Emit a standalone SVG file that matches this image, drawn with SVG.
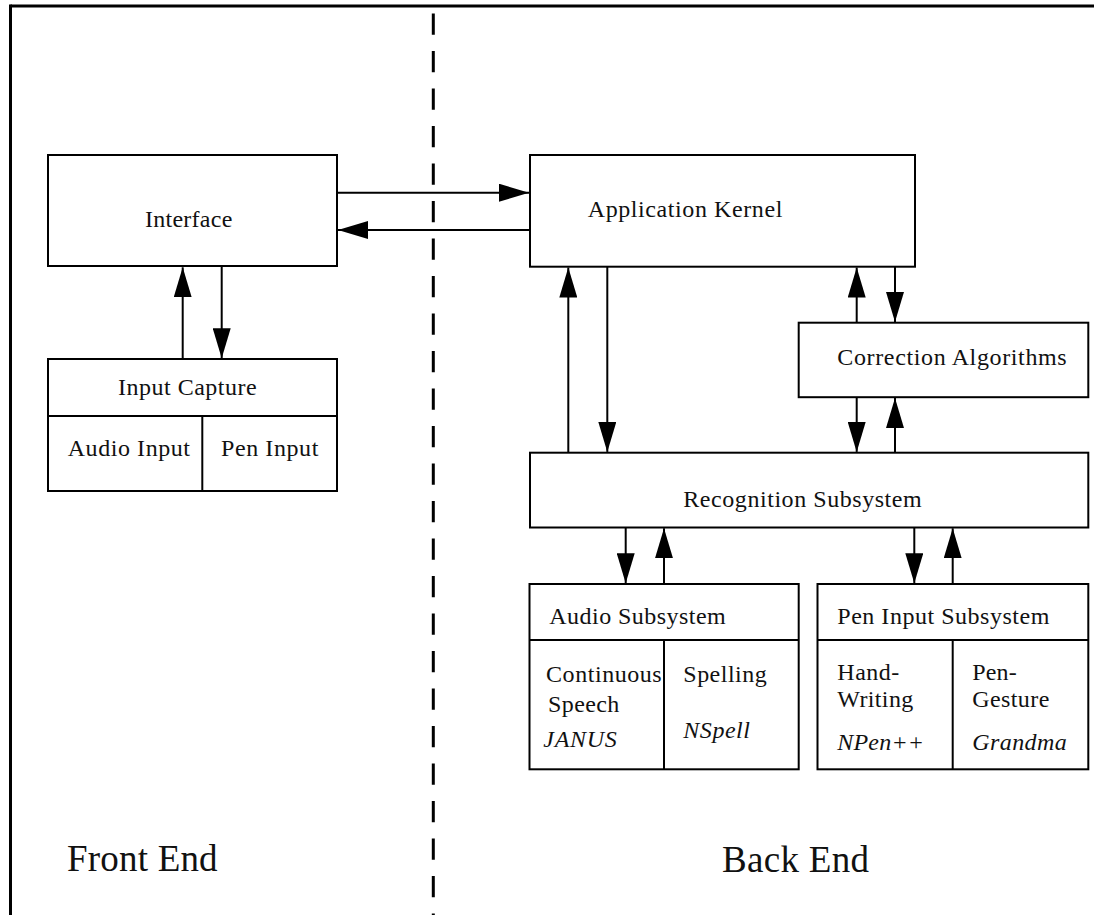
<svg xmlns="http://www.w3.org/2000/svg" width="1094" height="915" viewBox="0 0 1094 915">
<style>
.box{fill:#fff;stroke:#000;stroke-width:2}
.div{fill:none;stroke:#000;stroke-width:2}
.lbl{font-family:"Liberation Serif","Times New Roman",serif;font-size:24px;fill:#111}
.it{font-style:italic}
.big{font-family:"Liberation Serif","Times New Roman",serif;font-size:37px;fill:#111}
.conn line{stroke:#000;stroke-width:2;marker-end:url(#ah)}
</style>
<defs>
<marker id="ah" markerUnits="userSpaceOnUse" markerWidth="31" markerHeight="18" refX="30" refY="9" orient="auto" viewBox="0 0 31 18">
<path d="M0,0 L30,9 L0,18 z" fill="#000"/>
</marker>
</defs>
<rect width="1094" height="915" fill="#fff"/>
<g id="frame">
<line x1="10.5" y1="6" x2="1094" y2="6" stroke="#000" stroke-width="3"/>
<line x1="10.5" y1="4.5" x2="10.5" y2="915" stroke="#000" stroke-width="3"/>
<line x1="433.3" y1="13.4" x2="433.3" y2="915" stroke="#000" stroke-width="3" stroke-dasharray="21.3 16.2"/>
</g>
<g id="interface">
<rect class="box" x="48" y="155" width="289" height="111"/>
<text class="lbl" x="145" y="227.3" textLength="87.3" lengthAdjust="spacing">Interface</text>
</g>
<g id="input-capture">
<rect class="box" x="48" y="359" width="289" height="132"/>
<line class="div" x1="48" y1="416" x2="337" y2="416"/>
<line class="div" x1="202.3" y1="416" x2="202.3" y2="491"/>
<text class="lbl" x="118" y="395.3" textLength="138.7" lengthAdjust="spacing">Input Capture</text>
<text class="lbl" x="67.7" y="455.5" textLength="122.3" lengthAdjust="spacing">Audio Input</text>
<text class="lbl" x="221" y="455.5" textLength="97.3" lengthAdjust="spacing">Pen Input</text>
</g>
<g id="application-kernel">
<rect class="box" x="530" y="155" width="385" height="111.7"/>
<text class="lbl" x="587.7" y="217.3" textLength="194.6" lengthAdjust="spacing">Application Kernel</text>
</g>
<g id="correction-algorithms">
<rect class="box" x="798.7" y="322.7" width="289.6" height="74.5"/>
<text class="lbl" x="837.3" y="365" textLength="229.4" lengthAdjust="spacing">Correction Algorithms</text>
</g>
<g id="recognition-subsystem">
<rect class="box" x="530" y="452.7" width="558.3" height="74.8"/>
<text class="lbl" x="683.3" y="506.7" textLength="238.4" lengthAdjust="spacing">Recognition Subsystem</text>
</g>
<g id="audio-subsystem">
<rect class="box" x="529.5" y="584" width="269.2" height="185.3"/>
<line class="div" x1="529.5" y1="640" x2="798.7" y2="640"/>
<line class="div" x1="664" y1="640" x2="664" y2="769.3"/>
<text class="lbl" x="549.3" y="624" textLength="176.4" lengthAdjust="spacing">Audio Subsystem</text>
<text class="lbl" x="546" y="682.3" textLength="115.7" lengthAdjust="spacing">Continuous</text>
<text class="lbl" x="548" y="711.7" textLength="71.3" lengthAdjust="spacing">Speech</text>
<text class="lbl it" x="543.3" y="747.3" textLength="73.4" lengthAdjust="spacing">JANUS</text>
<text class="lbl" x="683.3" y="682.3" textLength="83.4" lengthAdjust="spacing">Spelling</text>
<text class="lbl it" x="683.3" y="738.3" textLength="66.7" lengthAdjust="spacing">NSpell</text>
</g>
<g id="pen-input-subsystem">
<rect class="box" x="817.5" y="584" width="270.8" height="185.3"/>
<line class="div" x1="817.5" y1="640" x2="1088.3" y2="640"/>
<line class="div" x1="952.7" y1="640" x2="952.7" y2="769.3"/>
<text class="lbl" x="837.3" y="624" textLength="212" lengthAdjust="spacing">Pen Input Subsystem</text>
<text class="lbl" x="837.3" y="680" textLength="62" lengthAdjust="spacing">Hand-</text>
<text class="lbl" x="837.3" y="707.3" textLength="76" lengthAdjust="spacing">Writing</text>
<text class="lbl it" x="837.3" y="750" textLength="86.7" lengthAdjust="spacing">NPen++</text>
<text class="lbl" x="972.3" y="680" textLength="44.4" lengthAdjust="spacing">Pen-</text>
<text class="lbl" x="972.3" y="707.3" textLength="77" lengthAdjust="spacing">Gesture</text>
<text class="lbl it" x="972.3" y="750" textLength="94.4" lengthAdjust="spacing">Grandma</text>
</g>
<g id="region-labels">
<text class="big" x="67.1" y="871" textLength="150.5" lengthAdjust="spacing">Front End</text>
<text class="big" x="722" y="872" textLength="147" lengthAdjust="spacing">Back End</text>
</g>
<g id="connectors" class="conn">
<line x1="337" y1="192.7" x2="529" y2="192.7"/>
<line x1="530" y1="230" x2="338" y2="230"/>
<line x1="182.7" y1="359" x2="182.7" y2="267.3"/>
<line x1="221.7" y1="266" x2="221.7" y2="358.3"/>
<line x1="568.3" y1="452.7" x2="568.3" y2="267.5"/>
<line x1="607.3" y1="266.7" x2="607.3" y2="451.9"/>
<line x1="856.7" y1="322.7" x2="856.7" y2="267.5"/>
<line x1="895" y1="266.7" x2="895" y2="321.9"/>
<line x1="856.7" y1="397.2" x2="856.7" y2="451.9"/>
<line x1="895" y1="452.7" x2="895" y2="398.1"/>
<line x1="625.7" y1="527.5" x2="625.7" y2="583.2"/>
<line x1="664" y1="584" x2="664" y2="528.3"/>
<line x1="914.3" y1="527.5" x2="914.3" y2="583.2"/>
<line x1="952.7" y1="584" x2="952.7" y2="528.3"/>
</g>
</svg>
